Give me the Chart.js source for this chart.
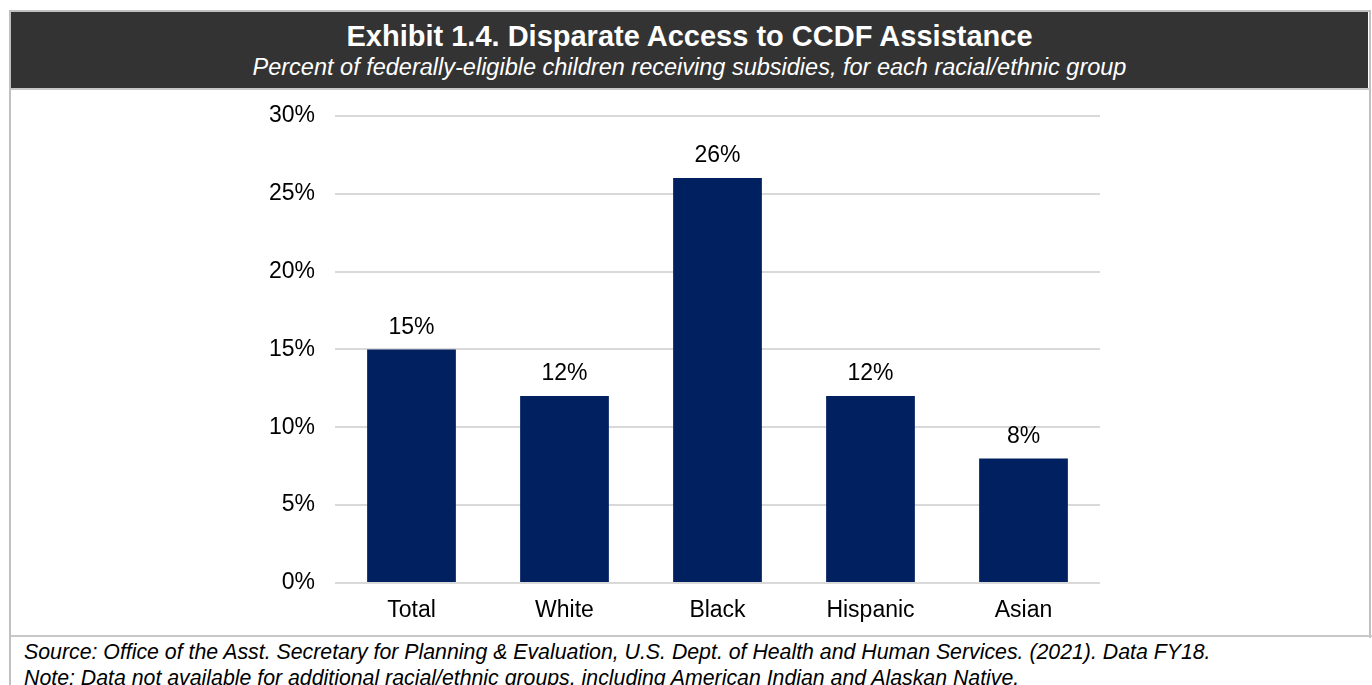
<!DOCTYPE html>
<html>
<head>
<meta charset="utf-8">
<script src="https://cdn.jsdelivr.net/npm/chart.js@4.4.1/dist/chart.umd.min.js"></script>
<style>
  html, body { margin: 0; padding: 0; background: #fff; overflow: hidden; }
  body { width: 1372px; height: 685px; position: relative; font-family: "Liberation Sans", Arial, sans-serif; }
  .frame { position: absolute; left: 9px; top: 10px; width: 1358px; height: 626px; border: 2px solid #c0c0c0; border-bottom: none; }
  .frame-left { position: absolute; left: 9px; top: 636px; width: 2px; height: 49px; background: #c0c0c0; }
  .header { position: absolute; left: 11px; top: 12px; width: 1357px; height: 76px; background: #333333; color: #fff; text-align: center; }
  .header .title { font-weight: bold; font-size: 29px; margin-top: 9px; line-height: 30px; }
  .header .sub { font-style: italic; font-size: 23.5px; margin-top: 3px; line-height: 26px; }
  .rule { position: absolute; left: 11px; top: 88px; width: 1359px; height: 2px; background: #c8c8c8; }
  .rule2 { position: absolute; left: 11px; top: 635px; width: 1361px; height: 2px; background: #c8c8c8; }
  .wrap { position: absolute; left: 0; top: 82px; width: 1372px; height: 553px; }
  .foot { position: absolute; left: 24px; font-style: italic; font-size: 21.3px; line-height: 24px; color: #000; white-space: nowrap; }
</style>
</head>
<body>
<div class="frame"></div>
<div class="frame-left"></div>
<div class="header">
  <div class="title">Exhibit 1.4. Disparate Access to CCDF Assistance</div>
  <div class="sub">Percent of federally-eligible children receiving subsidies, for each racial/ethnic group</div>
</div>
<div class="rule"></div>
<div class="wrap"><canvas id="chart"></canvas></div>
<div class="rule2"></div>
<div class="foot" style="top:640px">Source: Office of the Asst. Secretary for Planning &amp; Evaluation, U.S. Dept. of Health and Human Services. (2021). Data FY18.</div>
<div class="foot" style="top:666px">Note: Data not available for additional racial/ethnic groups, including American Indian and Alaskan Native.</div>

<script>
var categories = ['Total', 'White', 'Black', 'Hispanic', 'Asian'];
var shares = [15, 12, 26, 12, 8];
var yTicks = [0, 5, 10, 15, 20, 25, 30];

var FONT = '"Liberation Sans", Arial, sans-serif';

// value labels above each bar
var barLabels = {
    id: 'barLabels',
    afterDatasetsDraw: function(chart) {
        var ctx = chart.ctx;
        var meta = chart.getDatasetMeta(0);
        ctx.save();
        ctx.font = '23px ' + FONT;
        ctx.fillStyle = '#000';
        ctx.textAlign = 'center';
        ctx.textBaseline = 'middle';
        meta.data.forEach(function(bar, i) {
            ctx.fillText(shares[i] + '%', bar.x, bar.y - 22);
        });
        ctx.restore();
    }
};

new Chart(document.getElementById('chart'), {
    type: 'bar',
    data: {
        labels: categories,
        datasets: [{
            data: shares,
            backgroundColor: '#002060',
            borderWidth: 0,
            barPercentage: 0.58,
            categoryPercentage: 1.0
        }]
    },
    options: {
        responsive: true,
        maintainAspectRatio: false,
        animation: false,
        events: [],
        layout: { padding: { left: 0, right: 272, top: 18, bottom: 0 } },
        plugins: { legend: { display: false }, tooltip: { enabled: false } },
        scales: {
            x: {
                grid: { display: false, drawTicks: false },
                border: { display: false },
                ticks: { color: '#000', font: { size: 23, family: FONT }, padding: 14 },
                afterFit: function(s) { s.height = 52; }
            },
            y: {
                min: 0,
                max: 30,
                afterBuildTicks: function(s) { s.ticks = yTicks.map(function(v) { return { value: v }; }); },
                ticks: {
                    color: '#000',
                    font: { size: 23, family: FONT },
                    padding: 20,
                    callback: function(v) { return v + '%'; }
                },
                grid: { color: '#d9d9d9', lineWidth: 2, drawTicks: false },
                border: { display: false },
                afterFit: function(s) { s.width = 335; }
            }
        }
    },
    plugins: [barLabels]
});
</script>
</body>
</html>
